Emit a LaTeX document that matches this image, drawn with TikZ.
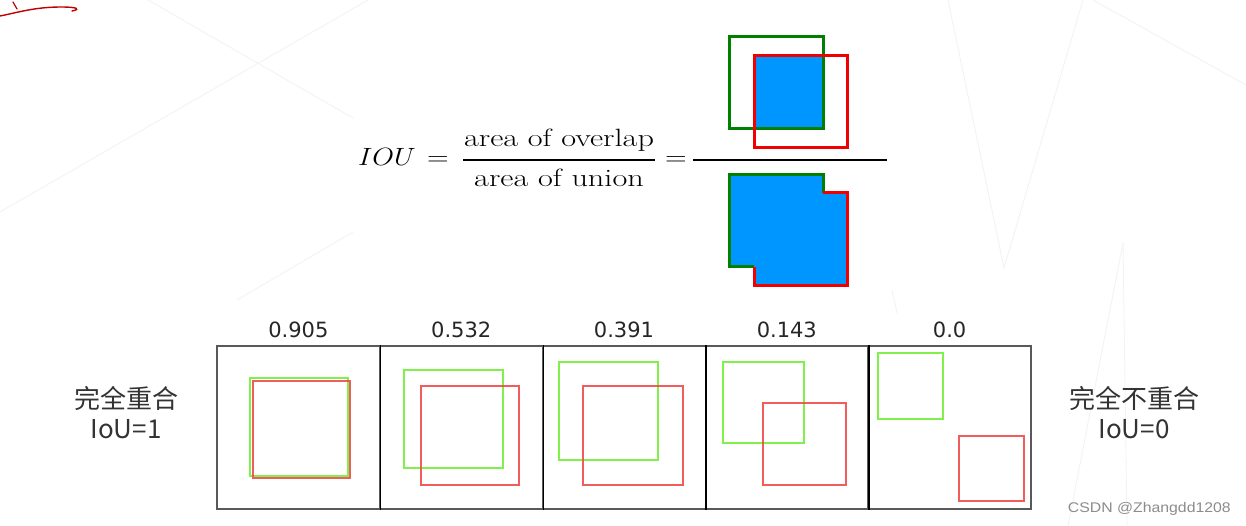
\RequirePackage{fix-cm}
\documentclass[tikz,border=0pt]{standalone}
\usepackage{amsmath}
\usepackage{fontspec}
\usepackage{graphicx}
\usepackage{xcolor}
\usepackage{tikz}
\usetikzlibrary{calc, positioning}

\newfontfamily\cjk{Noto Sans CJK SC}
\newfontfamily\dejavu{DejaVu Sans}
\newfontfamily\wmfont{Liberation Sans}

\definecolor{ioublue}{RGB}{0,150,255}
\definecolor{iougreen}{RGB}{0,128,0}
\definecolor{iouredd}{RGB}{240,0,0}
\definecolor{gtgreen}{RGB}{115,240,55}
\definecolor{predred}{RGB}{240,75,75}

\tikzset{
	panel/.style={rectangle, draw=black!65, line width=1.5pt, minimum width=162.8pt, minimum height=163pt, inner sep=0pt},
	scorelbl/.style={font=\dejavu\fontsize{21}{24}\selectfont, text=black!85, inner sep=0pt},
	gtbox/.style={draw=gtgreen, line width=1.8pt, draw opacity=0.9},
	predbox/.style={draw=predred, line width=1.8pt, draw opacity=0.9},
	cjklbl/.style={font=\cjk\fontsize{26}{30}\selectfont, text=black!80, align=center, inner sep=0pt},
	formula/.style={inner sep=0pt, font=\fontsize{25}{30}\selectfont}
}

\begin{document}
\begin{tikzpicture}[x=1pt, y=-1pt, >=latex]
		\useasboundingbox (0,0) rectangle (1246,526);
		\fill[white] (0,0) rectangle (1246,526);
		
		% --- Fond (lignes de la diapositive) ---
		\draw[black!5, line width=0.8pt] (148,0) -- (353,118);
		\draw[black!5, line width=0.8pt] (368,0) -- (0,212);
		\draw[black!5, line width=0.8pt] (353,232) -- (237,300);
		\draw[black!5, line width=0.8pt] (948,0) -- (1004,268) -- (1083,0);
		\draw[black!5, line width=0.8pt] (1093,0) -- (1246,85);
		\draw[black!5, line width=0.8pt] (1123,243) -- (1068,526);
		\draw[black!5, line width=0.8pt] (1123,243) -- (1127,526);
		\draw[black!5, line width=0.8pt] (892,290) -- (897,313);
		
		% --- Annotation rouge ---
		\draw[red!75!black, line width=1.4pt, line cap=round] (0,16) .. controls (20,12) and (35,7) .. (62,7) .. controls (76,7) and (82,9) .. (72,11);
		\draw[red!75!black, line width=1.2pt, line cap=round] (13,2) -- (17,9);
		
		% --- Formule ---
		\node[formula, anchor=base west] (iou) at (358,166) {\scalebox{1.12}[1]{$IOU$}};
		\node[formula, anchor=base] (eq1) at (438,166) {\scalebox{1.2}[1]{$=$}};
		\node[formula, anchor=base] (num) at (559,147) {\scalebox{1.29}[1]{area of overlap}};
		\node[formula, anchor=base] (den) at (559,187) {\scalebox{1.29}[1]{area of union}};
		\node[formula, anchor=base] (eq2) at (676,166) {\scalebox{1.2}[1]{$=$}};
		\coordinate (frac_l) at (463,160);
		\coordinate (frac_r) at (655,160);
		\coordinate (bar_l) at (693,160);
		\coordinate (bar_r) at (887,160);
		\draw[line width=1.2pt] (frac_l) -- (frac_r);
		\draw[line width=1.2pt] (bar_l) -- (bar_r);
		
		% --- Intersection (en haut) ---
		\fill[ioublue] (754,56) rectangle (823,129);
		\draw[iougreen, line width=3pt] (729,37) rectangle (823,129);
		\draw[iouredd, line width=3pt] (754,56) rectangle (847,148);
		
		% --- Union (en bas) ---
		\fill[ioublue] (729,175) -- (823,175) -- (823,193) -- (847,193) -- (847,286) -- (754,286) -- (754,267) -- (729,267) -- cycle;
		\draw[iougreen, line width=3pt] (754,267) -- (729,267) -- (729,175) -- (823,175) -- (823,193);
		\draw[iouredd, line width=3pt] (823,193) -- (847,193) -- (847,286) -- (754,286) -- (754,267);
		
		% --- Exemples ---
		\foreach \v [count=\k] in {0.905, 0.532, 0.391, 0.143, 0.0} {
			\node[panel] (p\k) at ({217+(\k-0.5)*162.8}, 427.5) {};
			\node[scorelbl, anchor=base] (s\k) at ($(p\k.north)+(0,-8)$) {\v};
		}
		\foreach \k in {1,...,4} {
			\draw[black, line width=1.6pt] (p\k.north east) -- (p\k.south east);
		}
		\foreach \gxa/\gya/\gxb/\gyb/\rxa/\rya/\rxb/\ryb in {250/378/348/476/253/381/350/478, 404/370/503/468/421/386/519/485, 559/362/658/460/583/386/683/485, 723/362/804/443/763/403/846/485, 878/353/943/419/959/436/1024/501} {
			\draw[gtbox] (\gxa,\gya) rectangle (\gxb,\gyb);
			\draw[predbox] (\rxa,\rya) rectangle (\rxb,\ryb);
		}
		
		% --- Textes ---
		\node[cjklbl] (lbl_full) at (126,413) {完全重合\\IoU=1};
		\node[cjklbl] (lbl_none) at (1134,413) {完全不重合\\IoU=0};
		\node[anchor=base east, inner sep=0pt, text=black!45] (wm) at (1231,512) {\scalebox{1.13}[1]{\wmfont\fontsize{14}{16}\selectfont CSDN @Zhangdd1208}};
		
	\end{tikzpicture}
\end{document}
